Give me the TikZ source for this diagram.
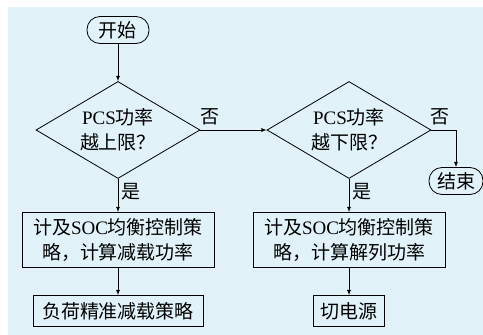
\documentclass[tikz,border=0pt]{standalone}
\usepackage{fontspec}
\setmainfont{Liberation Serif}
\newfontfamily\cjk{Noto Sans CJK SC}
\usepackage{tikz}
\usetikzlibrary{shapes,arrows,positioning,calc}
\usepackage{xcolor}
\definecolor{bgblue}{HTML}{E1F2F9}
\newcommand{\en}[1]{{\rmfamily #1}}
\tikzstyle{l1}=[line width=0.8]
\tikzstyle{txt}=[font=\cjk\fontsize{19}{25}\selectfont]
\tikzstyle{term}=[txt, draw=black, l1, rectangle, rounded corners=13pt, minimum height=27pt, inner sep=3pt]
\tikzstyle{cond}=[txt, draw=black, l1, diamond, aspect=1.7, minimum width=164pt, minimum height=97pt, inner sep=0pt, align=center]
\tikzstyle{act}=[txt, draw=black, l1, rectangle, inner sep=2pt, align=center]

\begin{document}
\begin{tikzpicture}[x=1pt,y=-1pt]
    \useasboundingbox (0,0) rectangle (483,335);
    \fill[bgblue] (8,7) rectangle (483,335);

    \node[term, minimum width=62pt] (start) at (118, 30) {开始};
    \node[cond] (up) at (118, 130) {\en{PCS}功率\\越上限？};
    \node[cond] (down) at (349, 130) {\en{PCS}功率\\越下限？};
    \node[term, minimum width=54pt] (stop) at (456, 181) {结束};
    \node[act, minimum width=192pt, minimum height=55pt] (cut) at (118, 240) {计及\en{SOC}均衡控制策\\略，计算减载功率};
    \node[act, minimum width=170pt, minimum height=31pt] (shed) at (118, 311) {负荷精准减载策略};
    \node[act, minimum width=192pt, minimum height=55pt] (split) at (349, 240) {计及\en{SOC}均衡控制策\\略，计算解列功率};
    \node[act, minimum width=71pt, minimum height=31pt] (off) at (349, 311) {切电源};

    \draw[l1, -latex] (start) -- (up);
    \draw[l1, -latex] (up) -- (down);
    \draw[l1, -latex] (down.east) -| (stop.north);
    \draw[l1, -latex] (up) -- (cut);
    \draw[l1, -latex] (cut) -- (shed);
    \draw[l1, -latex] (down) -- (split);
    \draw[l1, -latex] (split) -- (off);

    \node[txt] at (210, 117) {否};
    \node[txt] at (440, 117) {否};
    \node[txt] at (131, 192) {是};
    \node[txt] at (362, 192) {是};
\end{tikzpicture}
\end{document}
